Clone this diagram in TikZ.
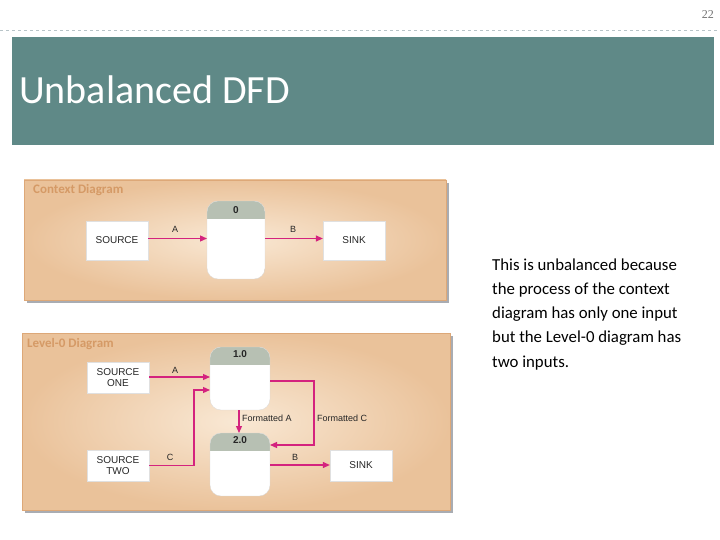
\documentclass[tikz,border=0pt]{standalone}
\usepackage{fontspec}
\setmainfont{Carlito}
\newfontfamily\dfdfont{Liberation Sans}
\newfontfamily\numfont{Liberation Serif}
\usetikzlibrary{arrows.meta}
\definecolor{titlebg}{HTML}{5F8987}
\definecolor{flow}{HTML}{D4237E}
\definecolor{hdr}{HTML}{B7C0B3}
\definecolor{paneledge}{HTML}{EAC29A}
\definecolor{panelmid}{HTML}{F9E8D4}
\definecolor{panelline}{HTML}{DDA878}
\definecolor{paneltxt}{HTML}{D59A66}
\definecolor{dashc}{HTML}{B8C4C8}
\definecolor{shadowc}{HTML}{A9ACB2}
\tikzset{
  panel/.style={inner color=panelmid, outer color=paneledge, draw=panelline, line width=0.5pt},
  shadowbox/.style={fill=shadowc},
  entity/.style={fill=white, draw=black!12, line width=0.3pt},
  lbl/.style={font=\dfdfont\fontsize{9}{10}\selectfont, text=black!85, inner sep=0pt},
  elbl/.style={font=\dfdfont\fontsize{10}{11.5}\selectfont, text=black!85, inner sep=0pt, align=center},
  plbl/.style={font=\dfdfont\bfseries\fontsize{10}{11}\selectfont, text=black!85, inner sep=0pt},
  flowarrow/.style={draw=flow, line width=1.2pt, -{Triangle[length=7pt,width=6pt]}},
  ptitle/.style={font=\bfseries\fontsize{13}{14}\selectfont, text=paneltxt, anchor=west, inner sep=0pt}
}
\newcommand{\procbox}[5]{% name, x1, y1, x2, y2
  \begin{scope}
    \path[clip, rounded corners=11pt] (#2,#3) rectangle (#4,#5);
    \fill[white] (#2,#3) rectangle (#4,#5);
    \fill[hdr] (#2,#3) rectangle (#4,#3+18);
  \end{scope}
  \draw[black!15, line width=0.3pt, rounded corners=11pt] (#2,#3) rectangle (#4,#5);
  \coordinate (#1) at ({(#2+#4)/2},{(#3+#5)/2});
}
\begin{document}
\begin{tikzpicture}[x=1pt,y=-1pt]
\useasboundingbox (0,0) rectangle (720,540);
\fill[white] (0,0) rectangle (720,540);
% page number and dashed line
\node[font=\numfont\fontsize{12}{13}\selectfont, text=black!55, anchor=base east, inner sep=0pt] (pnum) at (714,19) {22};
\draw[dashc, dashed, line width=0.5pt] (0,30) -- (720,30);
% title bar
\fill[titlebg] (12,37) rectangle (714,145);
\node[font=\fontsize{40}{42}\selectfont, text=white, anchor=base west, inner sep=0pt] (title) at (19,104) {Unbalanced DFD};

% ---------- Context diagram ----------
\fill[shadowbox] (27,183) rectangle (449,303);
\path[panel] (24,180) rectangle (446,300);
\node[ptitle] (ctitle) at (33,190.5) {Context Diagram};
\node[entity, minimum width=62pt, minimum height=39pt, inner sep=0pt] (src) at (117,240.5) {};
\node[elbl] at (src) {SOURCE};
\procbox{p0}{207}{201}{265}{279}
\node[plbl] (p0lbl) at (236,210.5) {0};
\node[entity, minimum width=62pt, minimum height=39pt, inner sep=0pt] (sink) at (354,240.5) {};
\node[elbl] at (sink) {SINK};
\coordinate (p0l) at (207,238.5);
\coordinate (p0r) at (265,238.5);
\draw[flowarrow] (src.east |- p0l) -- (p0l);
\draw[flowarrow] (p0r) -- (sink.west |- p0r);
\node[lbl] (la) at (175,229.5) {A};
\node[lbl] (lb) at (293,229.5) {B};

% ---------- Level-0 diagram ----------
\fill[shadowbox] (25,336) rectangle (453,513);
\path[panel] (22,333) rectangle (450,510);
\node[ptitle] (ltitle) at (27,344) {Level-0 Diagram};
\node[entity, minimum width=62pt, minimum height=31pt, inner sep=0pt] (s1) at (118,377.5) {};
\node[elbl] at (s1) {SOURCE\\ONE};
\node[entity, minimum width=62pt, minimum height=31pt, inner sep=0pt] (s2) at (118,465.5) {};
\node[elbl] at (s2) {SOURCE\\TWO};
\node[entity, minimum width=62pt, minimum height=31pt, inner sep=0pt] (sink2) at (361,465.5) {};
\node[elbl] at (sink2) {SINK};
\procbox{p1}{210}{347}{270}{410}
\node[plbl] (p1lbl) at (240,354.5) {1.0};
\procbox{p2}{210}{433}{270}{496}
\node[plbl] (p2lbl) at (240,440.5) {2.0};
% flows
\coordinate (p1a) at (210,377);
\coordinate (p1c) at (210,390);
\coordinate (p1b) at (239,410);
\coordinate (p2t) at (239,433);
\coordinate (p1r) at (270,381);
\coordinate (p2r) at (270,445);
\coordinate (p2b) at (270,465);
\draw[flowarrow] (s1.east |- p1a) -- (p1a);
\draw[flowarrow] (s2.east) -- (194,465.5) |- (p1c);
\draw[flowarrow] (p1b) -- (p2t);
\draw[flowarrow] (p1r) -- (314,381) |- (p2r);
\draw[flowarrow] (p2b) -- (sink2.west |- p2b);
\node[lbl] (l0a) at (175,370) {A};
\node[lbl] (l0c) at (170,457.5) {C};
\node[lbl, anchor=west] (lfa) at (242,418.5) {Formatted A};
\node[lbl, anchor=west] (lfc) at (317,418.5) {Formatted C};
\node[lbl] (l0b) at (295,457.5) {B};

% ---------- Explanation ----------
\node[anchor=base west, align=left, inner sep=0pt, font=\fontsize{16.8}{24.2}\selectfont, text=black] (expl) at (492,367) {This is unbalanced because\\the process of the context\\diagram has only one input\\but the Level-0 diagram has\\two inputs.};
\end{tikzpicture}
\end{document}
